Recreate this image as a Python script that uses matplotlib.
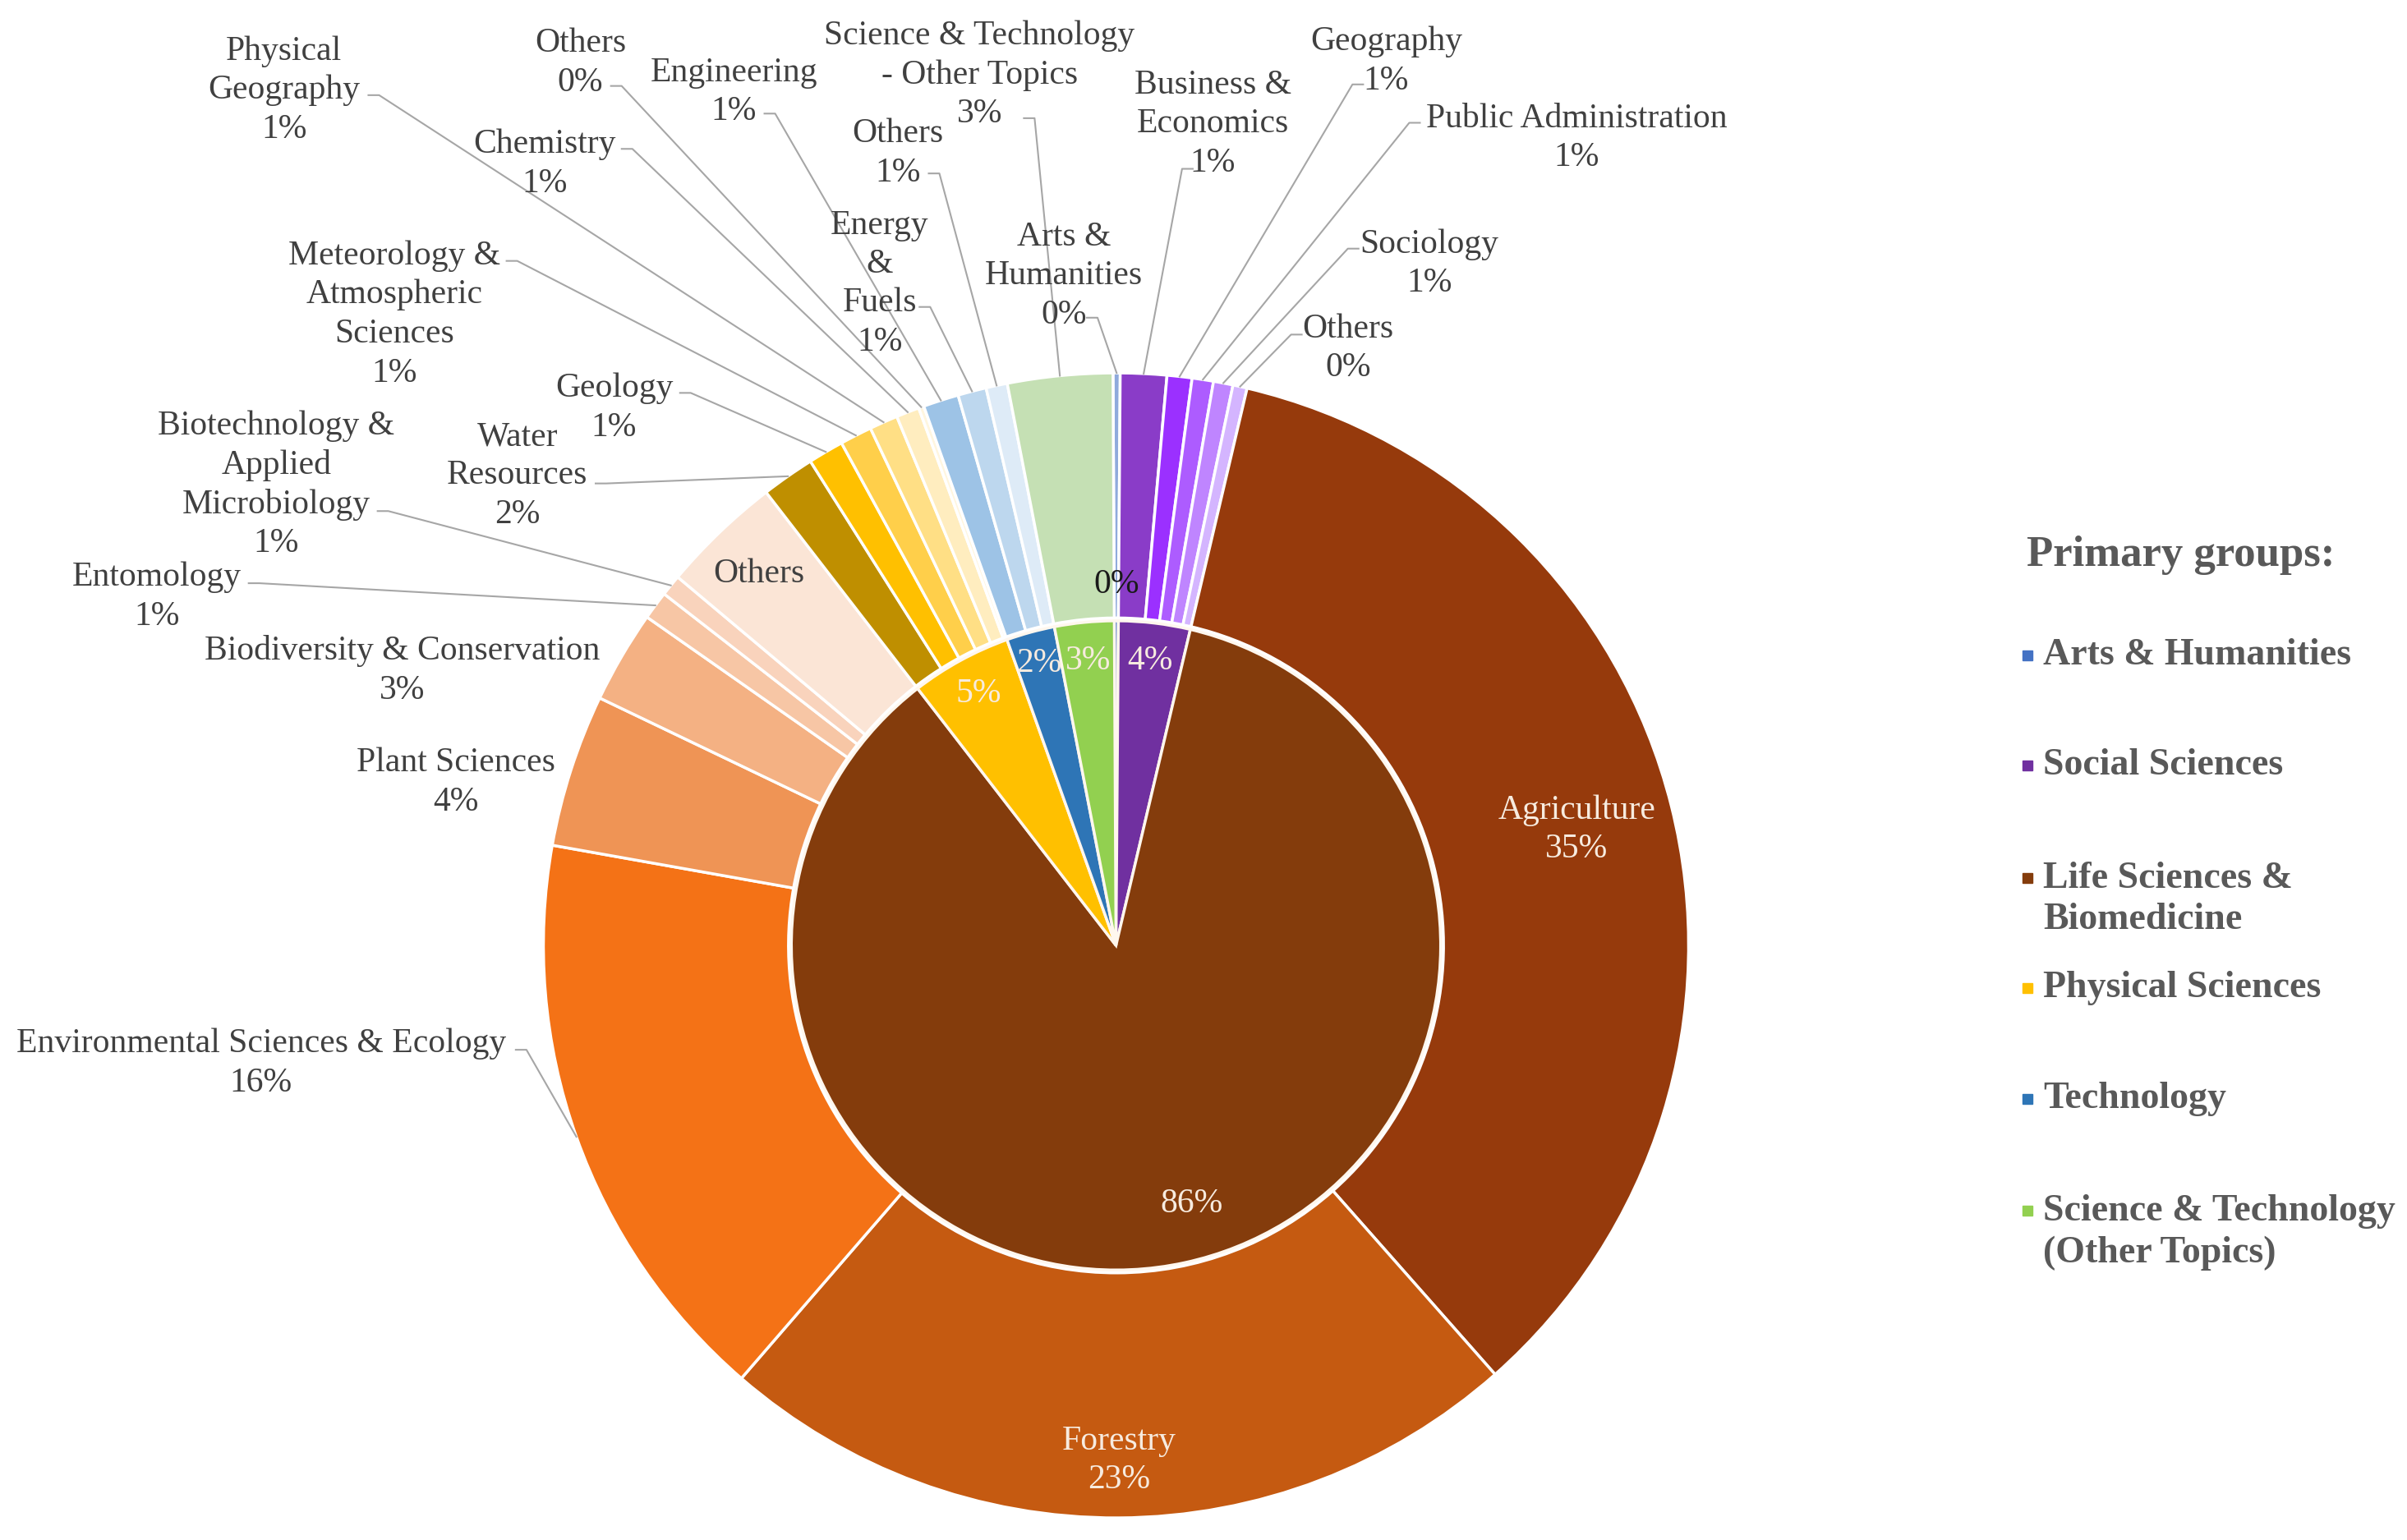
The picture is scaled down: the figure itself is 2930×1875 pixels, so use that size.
import matplotlib.pyplot as plt
import numpy as np

plt.rcParams['font.family'] = ['Liberation Serif', 'DejaVu Serif']

# inner pie: primary groups (same order as the outer ring, clockwise from top)
groups = ['Arts & Humanities', 'Social Sciences', 'Life Sciences &\nBiomedicine',
          'Physical Sciences', 'Technology', 'Science & Technology\n(Other Topics)']
group_colors = ['#4472C4', '#7030A0', '#843C0C', '#FFC000', '#2E75B6', '#92D050']

# outer ring: research areas (% of records)
arts_names = ['Arts &\nHumanities']
arts_vals = [0.2]
social_names = ['Business &\nEconomics', 'Geography', 'Public Administration', 'Sociology', 'Others']
social_vals = [1.3, 0.7, 0.6, 0.55, 0.4]
life_names = ['Agriculture', 'Forestry', 'Environmental Sciences & Ecology', 'Plant Sciences',
              'Biodiversity & Conservation', 'Entomology',
              'Biotechnology &\nApplied\nMicrobiology', 'Others']
life_vals = [34.7, 22.8, 16.4, 4.3, 2.6, 0.8, 0.6, 3.4]
phys_names = ['Water\nResources', 'Geology', 'Meteorology &\nAtmospheric\nSciences',
              'Physical\nGeography', 'Chemistry', 'Others']
phys_vals = [1.5, 1.0, 0.9, 0.8, 0.65, 0.15]
tech_names = ['Engineering', 'Energy\n&\nFuels', 'Others']
tech_vals = [1.0, 0.8, 0.6]
st_names = ['Science & Technology\n- Other Topics']
st_vals = [2.95]

arts_cols = ['#8FAADC']
social_cols = ['#8A3CC8', '#9B30FF', '#AD5CFF', '#BF85FF', '#D4B5FF']
life_cols = ['#963A0C', '#C55A11', '#F47216', '#EF9455', '#F4B183', '#F7C6A5', '#F9D3BC', '#FBE5D6']
phys_cols = ['#BF8F00', '#FFC000', '#FFCF4A', '#FFDF85', '#FFEDBF', '#FFF6DF']
tech_cols = ['#9DC3E6', '#BDD7EE', '#DEEBF7']
st_cols = ['#C5E0B4']

sub_vals = [arts_vals, social_vals, life_vals, phys_vals, tech_vals, st_vals]
outer_names = arts_names + social_names + life_names + phys_names + tech_names + st_names
outer_vals = arts_vals + social_vals + life_vals + phys_vals + tech_vals + st_vals
outer_cols = arts_cols + social_cols + life_cols + phys_cols + tech_cols + st_cols
inner_vals = [sum(v) for v in sub_vals]
total = sum(outer_vals)


def pct(v):
    return '{:.0f}%'.format(v / total * 100)


# the layout below in its 1568 px wide preview
S = 2930 / 1568


def px(x, y):
    return x * S, 1875 - y * S


TXT = '#404040'
LEAD = '#A6A6A6'
LIGHT = '#F7EBDF'
PITCH = 25.5  # line pitch of the data labels, preview px
cx, cy = px(727, 616)
R = 373 * S

fig = plt.figure(figsize=(29.3, 18.75), dpi=100)
ax = fig.add_axes([0, 0, 1, 1])

outer_wedges, _ = ax.pie(outer_vals, colors=outer_cols, radius=R, center=(cx, cy),
                         startangle=90.3, counterclock=False,
                         wedgeprops=dict(width=R * 0.428, edgecolor='white', linewidth=2.5))
inner_wedges, _ = ax.pie(inner_vals, colors=group_colors, radius=R * 0.567, center=(cx, cy),
                         startangle=90.3, counterclock=False,
                         wedgeprops=dict(edgecolor='#FFF7EE', linewidth=2.5))

ax.set_xlim(0, 2930)
ax.set_ylim(0, 1875)
ax.axis('off')

# inner percentages
inner_r = [0.63, 0.50, 0.47, 0.50, 0.51, 0.50]
for w, v, r, i in zip(inner_wedges, inner_vals, inner_r, range(6)):
    th = np.deg2rad((w.theta1 + w.theta2) / 2) + (0.07 if i == 2 else 0)
    col = '#1a1a1a' if i == 0 else LIGHT
    ax.text(cx + r * R * np.cos(th), cy + r * R * np.sin(th), pct(v),
            ha='center', va='center', fontsize=30, color=col)

# labels inside the outer ring
inside = [(6, 0.83, True, LIGHT), (7, 0.90, True, LIGHT), (13, 0.90, False, TXT)]
for idx, r, show, col in inside:
    w = outer_wedges[idx]
    th = np.deg2rad((w.theta1 + w.theta2) / 2)
    s = outer_names[idx] + ('\n' + pct(outer_vals[idx]) if show else '')
    ax.text(cx + r * R * np.cos(th), cy + r * R * np.sin(th), s,
            ha='center', va='center', fontsize=30, color=col, linespacing=1.3)

# outside labels: index, text centre, leader start (None = no leader)
label_layout = [
    (0, 693, 180, 708, 207),
    (1, 790, 81, 777, 110),
    (2, 903, 40, 888, 55),
    (3, 1027, 90, 925, 80),
    (4, 931, 172, 885, 162),
    (5, 878, 227, 848, 218),
    (8, 170, 693, 336, 684),
    (9, 297, 510, None, None),
    (10, 262, 437, None, None),
    (11, 102, 389, 162, 380),
    (12, 180, 316, 246, 333),
    (14, 337, 310, 388, 315),
    (15, 400, 266, 443, 256),
    (16, 257, 205, 330, 170),
    (17, 185, 59, 240, 62),
    (18, 355, 107, 405, 97),
    (19, 378, 41, 398, 56),
    (20, 478, 60, 498, 74),
    (21, 573, 185, 599, 200),
    (22, 585, 100, 605, 113),
    (23, 638, 49, 667, 77),
]
for idx, tx, ty, lx, ly in label_layout:
    name = outer_names[idx]
    n = name.count('\n') + 2
    # name block and percentage line drawn as two texts on the same pitch
    ax.text(*px(tx, ty - PITCH / 2), name, ha='center', va='center', fontsize=30,
            color=TXT, linespacing=1.3)
    ax.text(*px(tx, ty + (n - 1) * PITCH / 2), pct(outer_vals[idx]), ha='center',
            va='center', fontsize=30, color=TXT)
    if lx is None:
        continue
    w = outer_wedges[idx]
    th = np.deg2rad((w.theta1 + w.theta2) / 2)
    ex, ey = cx + R * np.cos(th), cy + R * np.sin(th)
    sx, sy = px(lx, ly)
    step = 13 if ex > sx else -13
    ax.plot([sx, sx + step, ex], [sy, sy, ey], color=LEAD, lw=1.5)

# legend
ax.text(*px(1320, 362), 'Primary groups:', ha='left', va='center', fontsize=38,
        fontweight='bold', color='#595959')
legend_y = [427, 499, 586, 644, 716, 803]
for name, col, ly in zip(groups, group_colors, legend_y):
    nl = name.count('\n')
    mx, my = px(1321, ly - nl * 14)
    ax.plot([mx], [my], marker='s', ms=9, color=col, linestyle='none')
    ax.text(*px(1331, ly), name, ha='left', va='center', fontsize=33,
            fontweight='bold', color='#595959', linespacing=1.25)

fig.savefig('out.png', dpi=100)
